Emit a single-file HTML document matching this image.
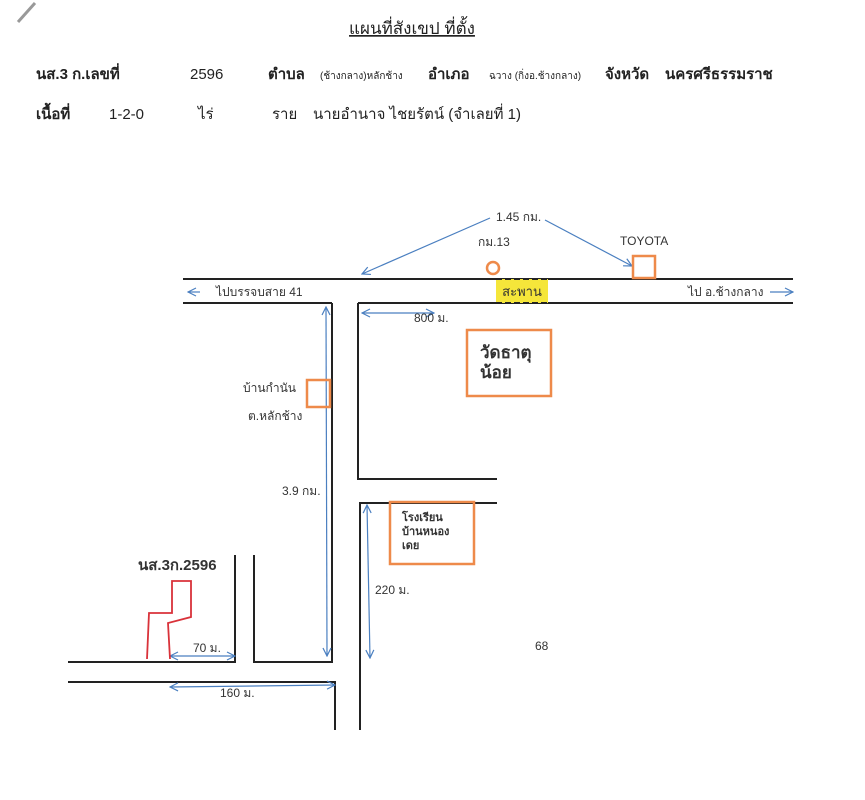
<!DOCTYPE html>
<html><head><meta charset="utf-8"><style>
body{margin:0;background:#fff;}
svg{display:block;font-family:"Liberation Sans","Noto Sans CJK SC",sans-serif;}
</style></head><body>
<svg width="865" height="800" viewBox="0 0 865 800" xmlns="http://www.w3.org/2000/svg">
<defs>
<marker id="a" markerWidth="10" markerHeight="10" refX="9" refY="5" orient="auto-start-reverse" markerUnits="userSpaceOnUse"><path d="M1,1 L9,5 L1,9" fill="none" stroke="#4a7fc0" stroke-width="1.2"/></marker>
</defs>
<line x1="18" y1="22" x2="35" y2="3" stroke="#999" stroke-width="3"/>
<text x="412" y="34" font-size="17" text-anchor="middle" fill="#222" text-decoration="underline">แผนที่สังเขป  ที่ตั้ง</text>
<g font-size="15" fill="#222">
<text x="36" y="79" font-weight="bold">นส.3 ก.เลขที่</text>
<text x="190" y="79">2596</text>
<text x="268" y="79" font-weight="bold">ตำบล</text>
<text x="320" y="79" font-size="10">(ช้างกลาง)หลักช้าง</text>
<text x="428" y="79" font-weight="bold">อำเภอ</text>
<text x="489" y="79" font-size="10">ฉวาง (กิ่งอ.ช้างกลาง)</text>
<text x="605" y="79" font-weight="bold">จังหวัด</text>
<text x="665" y="79" font-weight="bold">นครศรีธรรมราช</text>
<text x="36" y="119" font-weight="bold">เนื้อที่</text>
<text x="109" y="119">1-2-0</text>
<text x="198" y="119">ไร่</text>
<text x="272" y="119">ราย</text>
<text x="313" y="119">นายอำนาจ ไชยรัตน์ (จำเลยที่ 1)</text>
</g>
<g stroke="#222" stroke-width="2" fill="none">
<line x1="183" y1="279" x2="793" y2="279"/>
<line x1="183" y1="303" x2="332" y2="303"/>
<line x1="358" y1="303" x2="793" y2="303"/>
<polyline points="332,303 332,662 254,662 254,555"/>
<polyline points="358,303 358,479 497,479"/>
<polyline points="497,503 360,503 360,730"/>
<polyline points="235,555 235,662 68,662"/>
<polyline points="68,682 335,682 335,730"/>
</g>
<rect x="496" y="279" width="52" height="24" fill="#f5e63a"/>
<line x1="496" y1="279" x2="548" y2="279" stroke="#222" stroke-width="2" stroke-dasharray="6,3"/>
<line x1="496" y1="303" x2="548" y2="303" stroke="#222" stroke-width="2" stroke-dasharray="6,3"/>
<text x="522" y="296" font-size="13" text-anchor="middle" fill="#333">สะพาน</text>
<g stroke="#4a7fc0" stroke-width="1.2" fill="none">
<line x1="200" y1="292" x2="188" y2="292" marker-end="url(#a)"/>
<line x1="770" y1="292" x2="793" y2="292" marker-end="url(#a)"/>
<line x1="490" y1="218" x2="362" y2="274" marker-end="url(#a)"/>
<line x1="545" y1="220" x2="632" y2="266" marker-end="url(#a)"/>
<line x1="362" y1="313" x2="434" y2="313" marker-start="url(#a)" marker-end="url(#a)"/>
<line x1="326" y1="307" x2="327" y2="656" marker-start="url(#a)" marker-end="url(#a)"/>
<line x1="367" y1="505" x2="370" y2="658" marker-start="url(#a)" marker-end="url(#a)"/>
<line x1="170" y1="656" x2="235" y2="656" marker-start="url(#a)" marker-end="url(#a)"/>
<line x1="170" y1="687" x2="335" y2="685" marker-start="url(#a)" marker-end="url(#a)"/>
</g>
<g font-size="12" fill="#333">
<text x="496" y="221">1.45 กม.</text>
<text x="478" y="246">กม.13</text>
<text x="620" y="245">TOYOTA</text>
<text x="216" y="296">ไปบรรจบสาย 41</text>
<text x="688" y="296">ไป อ.ช้างกลาง</text>
<text x="414" y="322">800 ม.</text>
<text x="243" y="392">บ้านกำนัน</text>
<text x="248" y="420">ต.หลักช้าง</text>
<text x="282" y="495">3.9 กม.</text>
<text x="375" y="594">220 ม.</text>
<text x="193" y="652">70 ม.</text>
<text x="220" y="697">160 ม.</text>
<text x="535" y="650">68</text>
</g>
<g stroke="#ee8a4a" stroke-width="2.5" fill="none">
<circle cx="493" cy="268" r="6"/>
<rect x="633" y="256" width="22" height="22"/>
<rect x="467" y="330" width="84" height="66"/>
<rect x="307" y="380" width="23" height="27"/>
<rect x="390" y="502" width="84" height="62"/>
</g>
<text x="480" y="358" font-size="17" font-weight="bold" fill="#333">วัดธาตุ</text>
<text x="480" y="378" font-size="17" font-weight="bold" fill="#333">น้อย</text>
<g font-size="11" font-weight="bold" fill="#333">
<text x="402" y="521">โรงเรียน</text>
<text x="402" y="535">บ้านหนอง</text>
<text x="402" y="549">เดย</text>
</g>
<text x="138" y="570" font-size="15" font-weight="bold" fill="#333">นส.3ก.2596</text>
<polyline points="147,659 149,613 172,613 172,581 191,581 191,617 168,623 170,659" fill="none" stroke="#d9323a" stroke-width="1.8"/>
</svg>
</body></html>
